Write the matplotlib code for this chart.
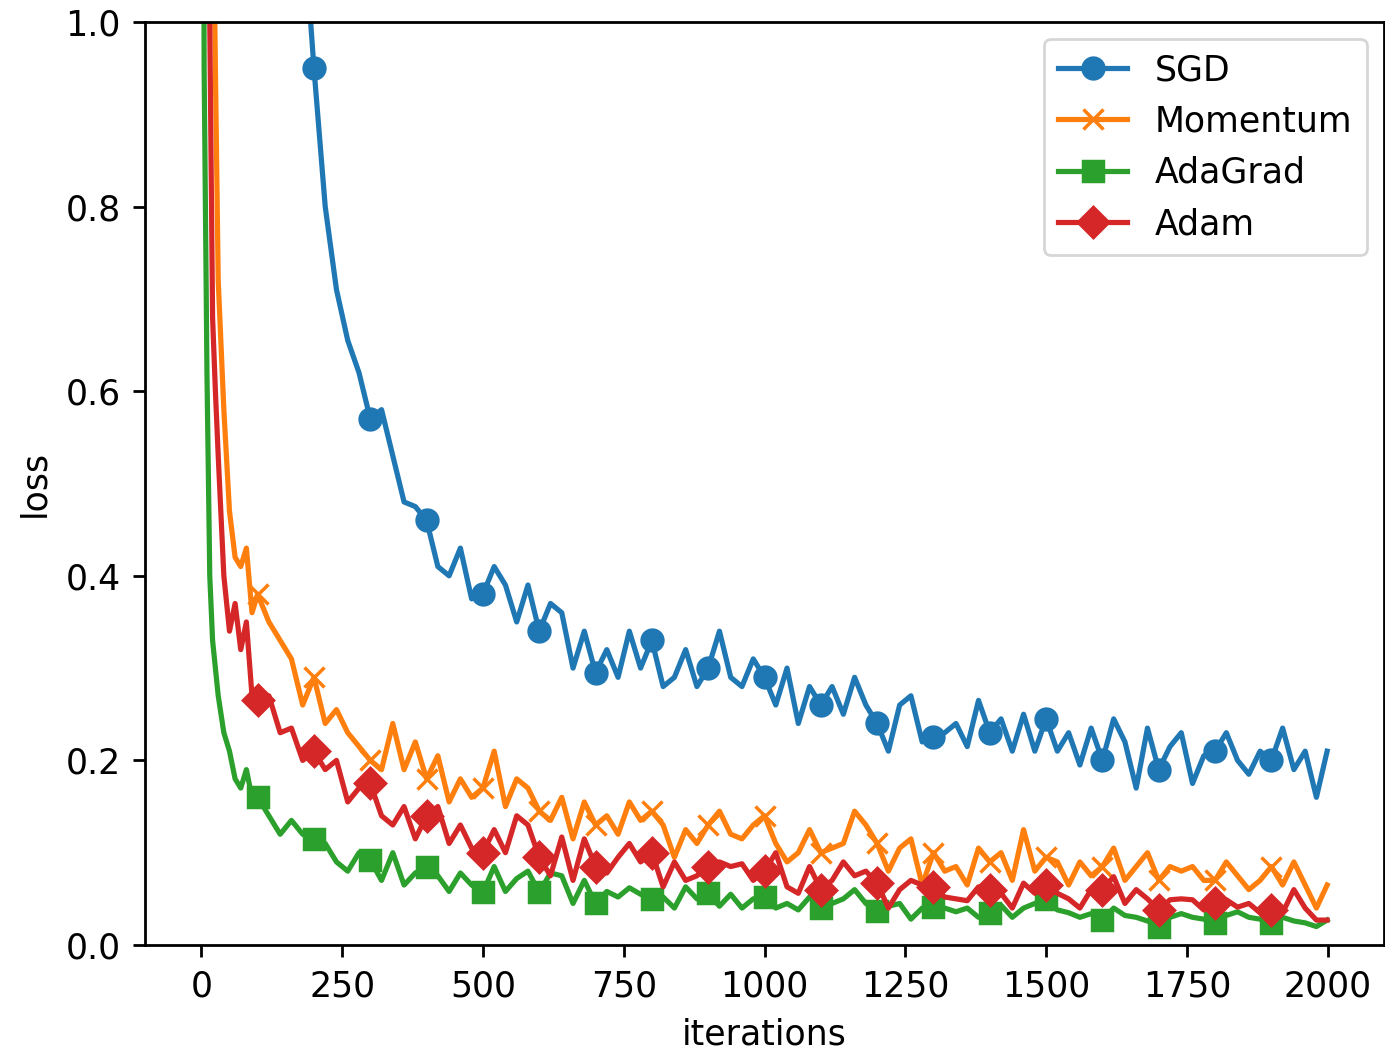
import matplotlib
matplotlib.use("Agg")
import matplotlib.pyplot as plt
import numpy as np

# iteration grid: denser at the start where the curves drop fast
ITERS_EARLY = [0, 5, 10, 15, 20, 25, 30, 40, 50, 60, 70, 80, 90]
ITERS = ITERS_EARLY + list(range(100, 2000, 20)) + [1999]

SGD = [
    2.30, 2.30, 2.29, 2.28, 2.28, 2.27, 2.26, 2.25, 2.23, 2.21, 2.18, 2.14, 2.08,
    2.00, 1.82, 1.60, 1.38, 1.12, 0.95, 0.80, 0.71, 0.655, 0.62,
    0.57, 0.58, 0.53, 0.48, 0.475, 0.46, 0.41, 0.40, 0.43, 0.375,
    0.38, 0.41, 0.39, 0.35, 0.39, 0.34, 0.37, 0.36, 0.30, 0.34,
    0.295, 0.32, 0.29, 0.34, 0.30, 0.33, 0.28, 0.29, 0.32, 0.28,
    0.30, 0.34, 0.29, 0.28, 0.31, 0.29, 0.26, 0.30, 0.24, 0.28,
    0.26, 0.28, 0.25, 0.29, 0.26, 0.24, 0.21, 0.26, 0.27, 0.22,
    0.225, 0.23, 0.24, 0.215, 0.265, 0.23, 0.245, 0.21, 0.25, 0.21,
    0.245, 0.21, 0.23, 0.195, 0.235, 0.20, 0.245, 0.22, 0.17, 0.235,
    0.19, 0.215, 0.23, 0.175, 0.205, 0.21, 0.23, 0.20, 0.185, 0.21,
    0.20, 0.235, 0.19, 0.21, 0.16, 0.21,
]

MOMENTUM = [
    2.30, 2.20, 1.90, 1.50, 1.20, 0.95, 0.72, 0.58, 0.47, 0.42, 0.41, 0.43, 0.36,
    0.38, 0.35, 0.33, 0.31, 0.26, 0.29, 0.24, 0.255, 0.23, 0.215,
    0.20, 0.19, 0.24, 0.19, 0.22, 0.18, 0.205, 0.155, 0.18, 0.16,
    0.17, 0.21, 0.15, 0.18, 0.17, 0.145, 0.135, 0.16, 0.115, 0.155,
    0.13, 0.14, 0.12, 0.155, 0.135, 0.145, 0.13, 0.095, 0.125, 0.11,
    0.13, 0.145, 0.12, 0.115, 0.13, 0.14, 0.11, 0.09, 0.10, 0.125,
    0.10, 0.105, 0.11, 0.145, 0.13, 0.11, 0.08, 0.105, 0.115, 0.065,
    0.10, 0.08, 0.085, 0.065, 0.105, 0.09, 0.10, 0.07, 0.125, 0.08,
    0.095, 0.09, 0.065, 0.09, 0.075, 0.085, 0.105, 0.07, 0.085, 0.10,
    0.07, 0.085, 0.08, 0.085, 0.07, 0.07, 0.09, 0.075, 0.06, 0.07,
    0.085, 0.065, 0.09, 0.065, 0.04, 0.065,
]

ADAGRAD = [
    2.30, 0.95, 0.62, 0.40, 0.33, 0.30, 0.27, 0.23, 0.21, 0.18, 0.17, 0.19, 0.16,
    0.16, 0.14, 0.12, 0.135, 0.12, 0.115, 0.11, 0.09, 0.08, 0.10,
    0.092, 0.07, 0.10, 0.065, 0.078, 0.085, 0.075, 0.058, 0.078, 0.065,
    0.057, 0.085, 0.058, 0.072, 0.08, 0.057, 0.078, 0.075, 0.045, 0.07,
    0.045, 0.058, 0.052, 0.062, 0.055, 0.05, 0.052, 0.04, 0.063, 0.05,
    0.056, 0.042, 0.055, 0.04, 0.05, 0.052, 0.04, 0.045, 0.038, 0.052,
    0.04, 0.045, 0.05, 0.06, 0.045, 0.037, 0.042, 0.045, 0.028, 0.04,
    0.041, 0.04, 0.036, 0.04, 0.03, 0.035, 0.043, 0.03, 0.04, 0.045,
    0.05, 0.038, 0.035, 0.03, 0.034, 0.027, 0.04, 0.032, 0.03, 0.026,
    0.02, 0.03, 0.034, 0.03, 0.028, 0.024, 0.032, 0.036, 0.03, 0.028,
    0.024, 0.03, 0.026, 0.024, 0.02, 0.027,
]

ADAM = [
    2.30, 2.00, 1.50, 1.00, 0.68, 0.60, 0.53, 0.40, 0.34, 0.37, 0.32, 0.35, 0.27,
    0.265, 0.27, 0.23, 0.235, 0.20, 0.21, 0.19, 0.20, 0.155, 0.17,
    0.175, 0.14, 0.13, 0.15, 0.115, 0.14, 0.15, 0.11, 0.13, 0.105,
    0.10, 0.125, 0.10, 0.14, 0.13, 0.095, 0.075, 0.117, 0.07, 0.115,
    0.085, 0.078, 0.095, 0.11, 0.09, 0.10, 0.063, 0.09, 0.07, 0.075,
    0.085, 0.09, 0.085, 0.088, 0.07, 0.08, 0.10, 0.063, 0.056, 0.085,
    0.06, 0.07, 0.09, 0.075, 0.08, 0.067, 0.04, 0.06, 0.07, 0.065,
    0.063, 0.052, 0.05, 0.048, 0.063, 0.06, 0.056, 0.04, 0.067, 0.056,
    0.065, 0.056, 0.05, 0.04, 0.06, 0.06, 0.074, 0.045, 0.06, 0.05,
    0.038, 0.049, 0.05, 0.049, 0.038, 0.045, 0.049, 0.041, 0.045, 0.035,
    0.038, 0.035, 0.06, 0.04, 0.027, 0.027,
]

SERIES = [("SGD", SGD, "o"), ("Momentum", MOMENTUM, "x"), ("AdaGrad", ADAGRAD, "s"), ("Adam", ADAM, "D")]
for _, vals, _ in SERIES:
    assert len(vals) == len(ITERS)

S = 2.5  # scale relative to matplotlib defaults
plt.rcParams.update({
    "font.size": 10 * S,
    "axes.linewidth": 0.8 * S,
    "xtick.major.size": 3.5 * S,
    "ytick.major.size": 3.5 * S,
    "xtick.major.width": 0.8 * S,
    "ytick.major.width": 0.8 * S,
    "xtick.major.pad": 3.5 * S,
    "ytick.major.pad": 3.5 * S,
    "axes.labelpad": 4.0 * S,
})

fig = plt.figure(figsize=(13.85, 10.5), dpi=100)
ax = fig.add_axes([145 / 1385, 1 - 945 / 1050, 1239 / 1385, 923 / 1050])

x = np.array(ITERS)
marks = [i for i, it in enumerate(ITERS) if it % 100 == 0]
for name, vals, mk in SERIES:
    ax.plot(x, vals, marker=mk, markevery=marks, label=name,
            linewidth=1.5 * S, markersize=6 * S, markeredgewidth=1.0 * S)

ax.set_xlim(-100, 2100)
ax.set_ylim(0, 1)
ax.set_xlabel("iterations")
ax.set_ylabel("loss")
leg = ax.legend(loc="upper right", borderaxespad=0.5, handlelength=2.0)
leg.get_frame().set_linewidth(0.8 * S)

fig.savefig("out.png", dpi=100)
